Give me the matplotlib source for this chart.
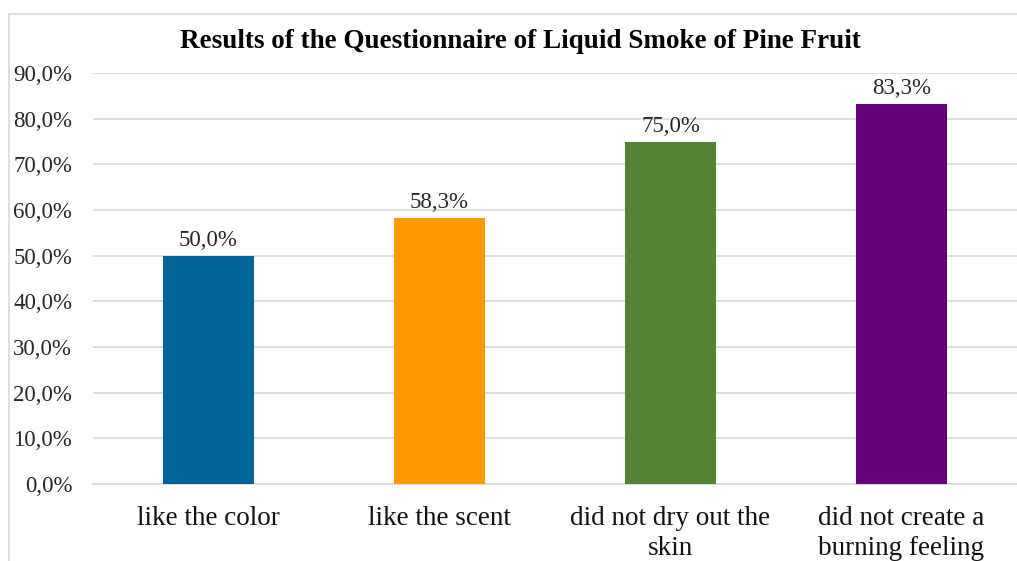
import numpy as np
import matplotlib.pyplot as plt
from matplotlib.ticker import FuncFormatter
from matplotlib.patches import Rectangle

categories = ["like the color", "like the scent",
              "did not dry out the\nskin", "did not create a\nburning feeling"]
percent = [50.0, 58.3, 75.0, 83.3]
bar_colors = ["#006499", "#FF9900", "#548235", "#660077"]
yticks = np.arange(0, 91, 10)

plt.rcParams['font.family'] = ['Liberation Serif', 'DejaVu Serif']

fig = plt.figure(figsize=(10.17, 5.61), dpi=100)
ax = fig.add_axes([93 / 1017, 77 / 561, 924 / 1017, 411 / 561])

# light chart border
fig.patches.append(Rectangle((9 / 1017, -0.1), 1.2, (561 - 14) / 561 + 0.1,
                             transform=fig.transFigure, fill=False,
                             edgecolor="#D9D9D9", linewidth=1.2))

x = np.arange(len(categories))
bars = ax.bar(x, percent, width=0.395, color=bar_colors, zorder=3)

for b, v in zip(bars, percent):
    ax.text(b.get_x() + b.get_width() / 2, v + 1.0, f"{v:.1f}%".replace(".", ","),
            ha="center", va="bottom", fontsize=16.5, color="#262626")

ax.set_xlim(-0.5, len(categories) - 0.5)
ax.set_ylim(0, 90)
ax.set_yticks(yticks)
ax.yaxis.set_major_formatter(FuncFormatter(lambda v, p: f"{v:.1f}%".replace(".", ",")))
ax.set_xticks(x)
ax.set_xticklabels(categories, fontsize=19.5, color="#111111", linespacing=1.25)
ax.tick_params(axis="y", labelsize=16.5, length=0, pad=15, colors="#262626")
ax.tick_params(axis="x", length=0, pad=16)

ax.grid(axis="y", color="#D9D9D9", linewidth=1.2, zorder=0)
for s in ["top", "right", "left"]:
    ax.spines[s].set_visible(False)
ax.spines["bottom"].set_color("#D9D9D9")
ax.spines["bottom"].set_linewidth(1.2)

fig.text(520 / 1017, 1 - 41 / 561, "Results of the Questionnaire of Liquid Smoke of Pine Fruit",
         ha="center", va="center", fontsize=19.5, fontweight="bold")

fig.savefig("out.png", dpi=100)
